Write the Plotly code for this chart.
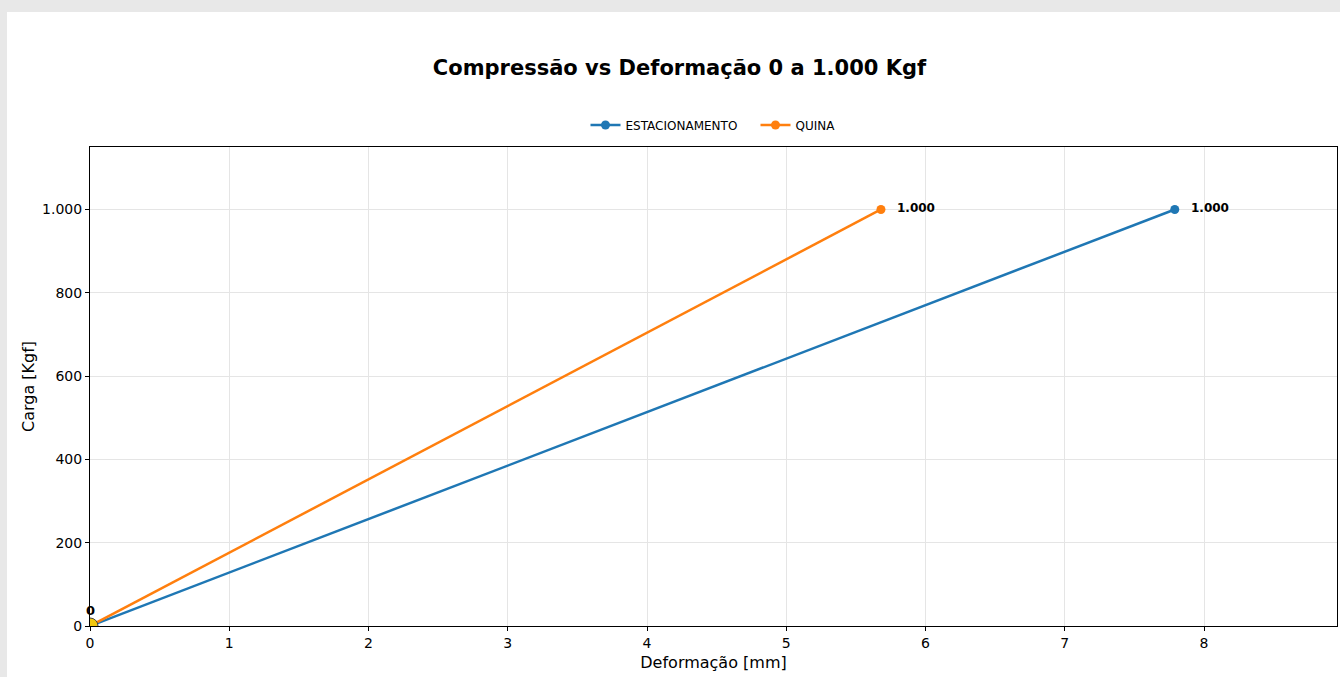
import plotly.graph_objects as go

# Data
series_names = ["ESTACIONAMENTO", "QUINA"]
estac_x = [0.0, 7.79]
estac_y = [0, 1000]
quina_x = [0.0, 5.68]
quina_y = [0, 1000]
end_labels = ["1.000", "1.000"]
origin_label = "0"
x_ticks = [0, 1, 2, 3, 4, 5, 6, 7, 8]
y_ticks = [0, 200, 400, 600, 800, 1000]
y_tick_text = ["0", "200", "400", "600", "800", "1.000"]

colors = ["#1f77b4", "#ff7f0e"]
FONT = "DejaVu Sans"

fig = go.Figure()

for name, xs, ys, c in [(series_names[0], estac_x, estac_y, colors[0]),
                        (series_names[1], quina_x, quina_y, colors[1])]:
    fig.add_trace(go.Scatter(
        x=xs, y=ys, name=name, mode="lines+markers",
        line=dict(color=c, width=2.5),
        marker=dict(color=c, size=9),
    ))

# origin marker (yellow)
fig.add_trace(go.Scatter(
    x=[estac_x[0]], y=[estac_y[0]], mode="markers", showlegend=False,
    marker=dict(color="#f2c80f", size=16, line=dict(color="#444444", width=1)),
    hoverinfo="skip",
))

annotations = []
for xs, ys, lab in [(estac_x, estac_y, end_labels[0]), (quina_x, quina_y, end_labels[1])]:
    annotations.append(dict(x=xs[-1], y=ys[-1], text="<b>%s</b>" % lab, showarrow=False,
                            xanchor="left", yanchor="middle", xshift=14, yshift=1,
                            font=dict(family=FONT, size=12, color="black")))
annotations.append(dict(x=estac_x[0], y=estac_y[0], text="<b>%s</b>" % origin_label, showarrow=False,
                        xanchor="center", yanchor="middle", yshift=16,
                        font=dict(family=FONT, size=13, color="black")))

PL, PR, PT, PB = 90, 1337, 147, 626
W, H = 1340, 677
pw, ph = PR - PL, PB - PT

fig.update_layout(
    width=W, height=H,
    margin=dict(l=PL, r=W - PR, t=PT, b=H - PB, pad=0),
    paper_bgcolor="#e8e8e8",
    plot_bgcolor="white",
    separators=",.",
    font=dict(family=FONT, size=14, color="black"),
    title=dict(text="<b>Compressão vs Deformação 0 a 1.000 Kgf</b>",
               x=679.5 / W, xref="container", xanchor="center",
               y=1 - 68 / H, yref="container", yanchor="middle",
               font=dict(family=FONT, size=21, color="black")),
    legend=dict(orientation="h", x=0.5 + 42 / pw, xanchor="center", y=(PB - 125) / ph,
                yref="paper", yanchor="middle",
                font=dict(family=FONT, size=12, color="black"),
                bgcolor="rgba(0,0,0,0)", entrywidth=125, entrywidthmode="pixels"),
    annotations=annotations,
    shapes=[dict(type="rect", xref="paper", yref="paper",
                 x0=(7 - PL) / pw, x1=1.2, y0=-0.3, y1=(PB - 12) / ph,
                 fillcolor="white", line=dict(width=0), layer="below")],
    showlegend=True,
)

fig.update_xaxes(
    range=[0, 8.955], tickvals=x_ticks, ticks="outside", ticklen=4, tickcolor="black",
    showline=True, linecolor="black", linewidth=1, mirror=True,
    showgrid=True, gridcolor="#e5e5e5", gridwidth=1, zeroline=False,
    title=dict(text="Deformação [mm]", font=dict(family=FONT, size=16), standoff=7),
    tickfont=dict(family=FONT, size=14),
)
fig.update_yaxes(
    range=[0, 1150], tickvals=y_ticks, ticktext=y_tick_text, ticks="outside", ticklen=4,
    tickcolor="black",
    showline=True, linecolor="black", linewidth=1, mirror=True,
    showgrid=True, gridcolor="#e5e5e5", gridwidth=1, zeroline=False,
    title=dict(text="Carga [Kgf]", font=dict(family=FONT, size=16), standoff=3),
    tickfont=dict(family=FONT, size=14),
)

fig.write_html("out.html", config={"displayModeBar": False},
               post_script="document.body.style.margin='0';document.body.style.overflow='hidden';")
